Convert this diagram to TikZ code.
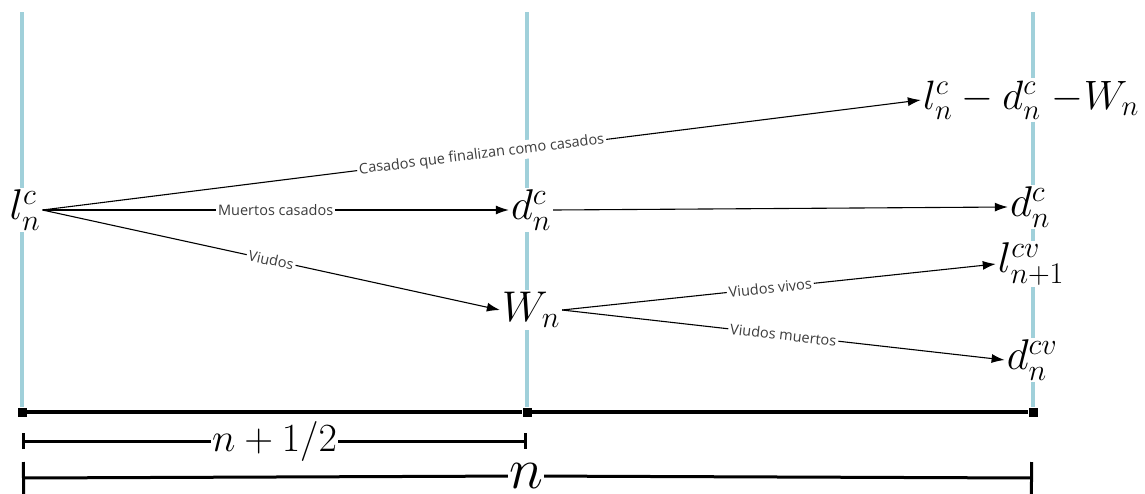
\RequirePackage{fix-cm}
\documentclass[tikz,border=0pt]{standalone}
\usepackage{fontspec}
\newfontfamily\lblfont{Open Sans}
\usetikzlibrary{arrows.meta}
\definecolor{tline}{RGB}{160,208,218}
\definecolor{lblgray}{RGB}{60,60,60}
\tikzset{
  stnode/.style={inner sep=2pt, font=\fontsize{43}{45}\selectfont},
  tlarr/.style={-{Latex[length=13pt,width=9pt]}, line width=1.1pt},
  tlbl/.style={fill=white, inner sep=2pt, sloped, font=\lblfont\fontsize{14.5}{16}\selectfont, text=lblgray},
  tbar/.style={tline, line width=4pt},
  sqmark/.style={fill=black, inner sep=0pt, minimum size=9pt},
  dimline/.style={line width=3pt},
  dimlbl/.style={fill=white, inner sep=1pt}
}

\begin{document}
\begin{tikzpicture}[x=1pt,y=-1pt]
\useasboundingbox (0,0) rectangle (1145,493);
% time lines
\coordinate (ltop) at (22,12);
\coordinate (mtop) at (527,12);
\coordinate (rtop) at (1033,12);
\node[sqmark] (b0) at (22,412) {};
\node[sqmark] (b1) at (527,412) {};
\node[sqmark] (b2) at (1033,412) {};

% states
\node[stnode] (lnc) at (25,210) {$l_n^c$};
\node[stnode] (dnc) at (531,210) {$d_n^c$};
\node[stnode] (wn) at (531,310) {$W_n$};
\node[stnode, font=\fontsize{41}{43}\selectfont] (fin) at (1031,100) {$l_n^c - d_n^c\; {-}W_n$};
\node[stnode] (dnc2) at (1030,207) {$d_n^c$};
\node[stnode] (lcv) at (1031,264) {$l_{n+1}^{cv}$};
\node[stnode] (dcv) at (1032,360) {$d_n^{cv}$};

\draw[tbar] (ltop) -- (ltop |- lnc.north);
\draw[tbar] (ltop |- lnc.south) -- (b0.north);
\draw[tbar] (mtop) -- (mtop |- dnc.north);
\draw[tbar] (mtop |- dnc.south) -- (mtop |- wn.north);
\draw[tbar] (mtop |- wn.south) -- (b1.north);
\draw[tbar] (rtop) -- (rtop |- fin.north);
\draw[tbar] (rtop |- fin.south) -- (rtop |- dnc2.north);
\draw[tbar] (rtop |- dnc2.south) -- (rtop |- lcv.north);
\draw[tbar] (rtop |- lcv.south) -- (rtop |- dcv.north);
\draw[tbar] (rtop |- dcv.south) -- (b2.north);

% transitions
\draw[tlarr] (lnc.east) -- node[tlbl] {Casados que finalizan como casados} (fin.west);
\draw[tlarr] (lnc.east) -- node[tlbl] {Muertos casados} (dnc.west);
\draw[tlarr] (lnc.east) -- node[tlbl] {Viudos} (wn.west);
\draw[tlarr] (dnc.east) -- (dnc2.west);
\draw[tlarr] (wn.east) -- node[tlbl, pos=0.48] {Viudos vivos} (lcv.west);
\draw[tlarr] (wn.east) -- node[tlbl] {Viudos muertos} (dcv.west);

% years
\draw[line width=4pt] (b0) -- (b1) -- (b2);
\coordinate (h0) at (22,441);
\coordinate (h1) at (527,441);
\node[dimlbl, font=\fontsize{40}{42}\selectfont] (half) at (274.5,441) {$n+1/2$};
\draw[dimline, {Bar[width=16pt]}-] (h0) -- (half);
\draw[dimline, -{Bar[width=16pt]}] (half) -- (h1);
\coordinate (f0) at (22,478);
\coordinate (f1) at (1033,478);
\node[dimlbl, font=\fontsize{58}{60}\selectfont] (full) at (526,476) {$n$};
\draw[dimline, {Bar[width=32pt]}-] (f0) -- (full);
\draw[dimline, -{Bar[width=32pt]}] (full) -- (f1);
\end{tikzpicture}
\end{document}
